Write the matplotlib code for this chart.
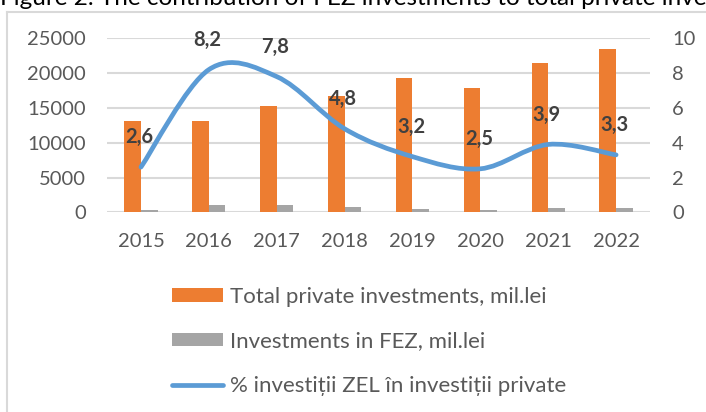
import numpy as np
import matplotlib.pyplot as plt
from matplotlib.path import Path
from matplotlib.patches import PathPatch, Patch
from matplotlib.lines import Line2D

plt.rcParams['font.family'] = ['Lato', 'DejaVu Sans']

years = ['2015', '2016', '2017', '2018', '2019', '2020', '2021', '2022']
total_private = [13100, 13100, 15300, 16700, 19300, 17800, 21500, 23500]
fez_invest = [300, 1050, 1050, 720, 430, 290, 660, 660]
share = [2.6, 8.2, 7.8, 4.8, 3.2, 2.5, 3.9, 3.3]
share_labels = ['2,6', '8,2', '7,8', '4,8', '3,2', '2,5', '3,9', '3,3']

ORANGE = '#ED7D31'
GREY = '#A5A5A5'
BLUE = '#5B9BD5'
TICK = '#595959'
GRID = '#D9D9D9'


def smooth_path(xs, ys):
    # excel-like smoothed line: cubic bezier with catmull-rom control points
    pts = np.column_stack([xs, ys]).astype(float)
    n = len(pts)
    verts = [pts[0]]
    codes = [Path.MOVETO]
    for i in range(n - 1):
        p0 = pts[max(i - 1, 0)]
        p1 = pts[i]
        p2 = pts[i + 1]
        p3 = pts[min(i + 2, n - 1)]
        c1 = p1 + (p2 - p0) / 6
        c2 = p2 - (p3 - p1) / 6
        verts += [c1, c2, p2]
        codes += [Path.CURVE4] * 3
    return Path(verts, codes)


fig = plt.figure(figsize=(7.06, 4.12), dpi=100)
ax = fig.add_axes([0.1516, 0.4847, 0.7691, 0.4223])
ax2 = ax.twinx()

x = np.arange(len(years))
w = 0.245
ax.bar(x - w / 2, total_private, w, color=ORANGE, zorder=2)
ax.bar(x + w / 2, fez_invest, w, color=GREY, zorder=2)

ax.set_xlim(-0.5, len(years) - 0.5)
ax.set_ylim(0, 25000)
ax.set_yticks(range(0, 25001, 5000))
ax.set_xticks(x)
ax.set_xticklabels(years)
ax.yaxis.grid(True, color=GRID, linewidth=1.5, zorder=0)
ax.set_axisbelow(True)
for sp in ax.spines.values():
    sp.set_visible(False)
ax.tick_params(axis='both', length=0, labelsize=14.5, labelcolor=TICK)
ax.tick_params(axis='y', pad=15)
ax.tick_params(axis='x', pad=15)

ax2.set_ylim(0, 10)
ax2.set_yticks(range(0, 11, 2))
for sp in ax2.spines.values():
    sp.set_visible(False)
ax2.tick_params(axis='y', length=0, labelsize=14.5, labelcolor=TICK, pad=16)

path = smooth_path(x, share)
ax2.add_patch(PathPatch(path, facecolor='none', edgecolor=BLUE, linewidth=3.4,
                        capstyle='round', joinstyle='round', zorder=3))
for xi, yi, lab in zip(x, share, share_labels):
    ax2.annotate(lab, (xi, yi), xytext=(-1, 21.5), textcoords='offset points',
                 ha='center', va='center', fontsize=14.5, fontweight='bold',
                 color='#404040', zorder=4)

handles = [Patch(facecolor=ORANGE, edgecolor='none'),
           Patch(facecolor=GREY, edgecolor='none'),
           Line2D([0], [0], color=BLUE, linewidth=3.4, solid_capstyle='round')]
labels = ['Total private investments, mil.lei',
          'Investments in FEZ, mil.lei',
          '% investiții ZEL în investiții private']
fig.legend(handles, labels, loc='upper left', bbox_to_anchor=(0.2436, 0.3034),
           frameon=False, fontsize=16, labelcolor=TICK, handlelength=2.3,
           handleheight=0.55, handletextpad=0.32, labelspacing=1.1,
           borderaxespad=0, borderpad=0)

# chart border and the title, cut at the top like the source
fig.add_artist(Line2D([7 / 706, 7 / 706], [0, 1 - 12 / 412], color=GRID, linewidth=1.5))
fig.add_artist(Line2D([7 / 706, 1], [1 - 12 / 412, 1 - 12 / 412], color=GRID, linewidth=1.5))
fig.text(0.0, 1 - 5.3 / 412, 'Figure 2. The contribution of FEZ investments to total private investments',
         ha='left', va='baseline', fontsize=17.5, color='#000000')

fig.savefig('out.png', dpi=100)
